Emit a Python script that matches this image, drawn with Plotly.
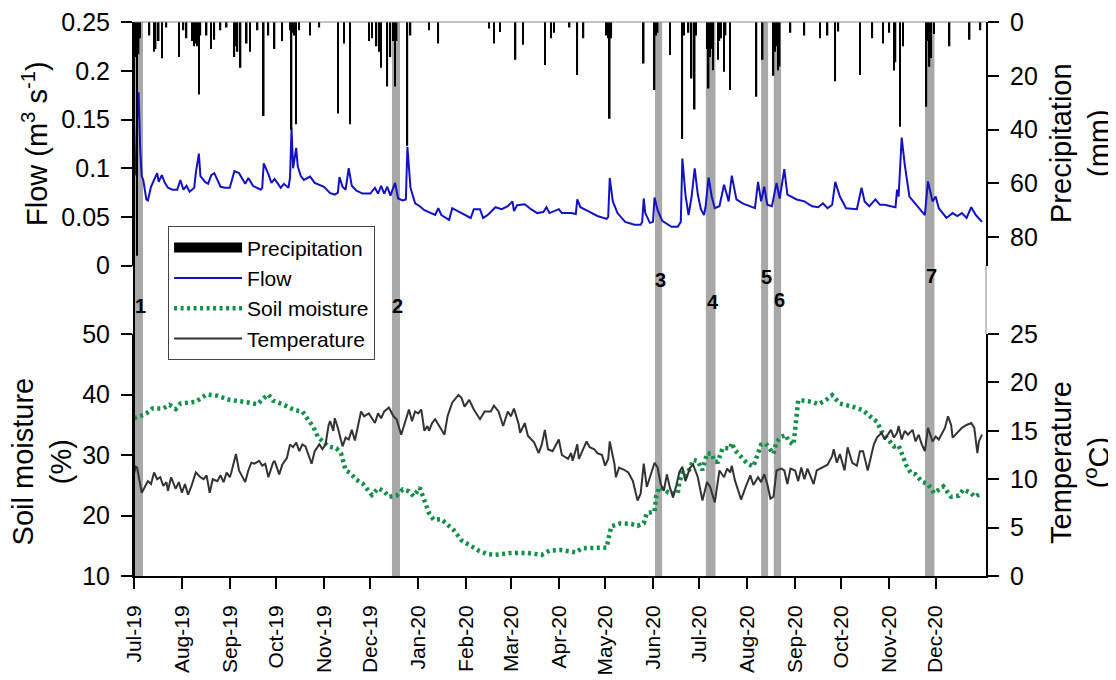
import plotly.graph_objects as go
import pandas as pd

# ---------------- data ----------------
flow_dates = [
    "2019-07-01", "2019-07-02", "2019-07-03", "2019-07-04", "2019-07-05", "2019-07-06", "2019-07-07",
    "2019-07-08", "2019-07-09", "2019-07-10", "2019-07-12", "2019-07-14", "2019-07-16", "2019-07-17",
    "2019-07-19", "2019-07-21", "2019-07-23", "2019-07-26", "2019-07-29", "2019-07-31", "2019-08-02",
    "2019-08-04", "2019-08-06", "2019-08-09", "2019-08-10", "2019-08-12", "2019-08-13", "2019-08-16",
    "2019-08-18", "2019-08-20", "2019-08-22", "2019-08-24", "2019-08-26", "2019-08-29", "2019-09-01",
    "2019-09-04", "2019-09-07", "2019-09-11", "2019-09-13", "2019-09-16", "2019-09-21", "2019-09-22",
    "2019-09-23", "2019-09-26", "2019-09-28", "2019-09-30", "2019-10-04", "2019-10-06", "2019-10-09",
    "2019-10-10", "2019-10-11", "2019-10-12", "2019-10-14", "2019-10-15", "2019-10-17", "2019-10-19",
    "2019-10-23", "2019-10-26", "2019-11-01", "2019-11-05", "2019-11-08", "2019-11-10", "2019-11-11",
    "2019-11-13", "2019-11-15", "2019-11-17", "2019-11-19", "2019-11-22", "2019-11-26", "2019-12-01",
    "2019-12-04", "2019-12-06", "2019-12-08", "2019-12-10", "2019-12-12", "2019-12-14", "2019-12-17",
    "2019-12-19", "2019-12-22", "2019-12-24", "2019-12-25", "2019-12-27", "2019-12-30", "2020-01-02",
    "2020-01-05", "2020-01-12", "2020-01-14", "2020-01-16", "2020-01-21", "2020-01-23", "2020-01-29",
    "2020-02-04", "2020-02-06", "2020-02-10", "2020-02-12", "2020-02-15", "2020-02-20", "2020-02-24",
    "2020-02-28", "2020-03-02", "2020-03-03", "2020-03-05", "2020-03-10", "2020-03-14", "2020-03-18",
    "2020-03-22", "2020-03-24", "2020-03-26", "2020-04-01", "2020-04-03", "2020-04-09", "2020-04-12",
    "2020-04-13", "2020-04-15", "2020-04-20", "2020-04-26", "2020-05-02", "2020-05-03", "2020-05-04",
    "2020-05-06", "2020-05-09", "2020-05-14", "2020-05-20", "2020-05-24", "2020-05-25", "2020-05-26",
    "2020-05-27", "2020-05-30", "2020-06-01", "2020-06-02", "2020-06-04", "2020-06-07", "2020-06-13",
    "2020-06-17", "2020-06-19", "2020-06-20", "2020-06-22", "2020-06-24", "2020-06-26", "2020-06-28",
    "2020-06-30", "2020-07-02", "2020-07-04", "2020-07-05", "2020-07-07", "2020-07-09", "2020-07-11",
    "2020-07-14", "2020-07-17", "2020-07-20", "2020-07-22", "2020-07-25", "2020-07-29", "2020-08-06",
    "2020-08-08", "2020-08-10", "2020-08-12", "2020-08-14", "2020-08-17", "2020-08-20", "2020-08-22",
    "2020-08-25", "2020-08-27", "2020-09-02", "2020-09-07", "2020-09-12", "2020-09-16", "2020-09-19",
    "2020-09-22", "2020-09-25", "2020-09-27", "2020-09-30", "2020-10-04", "2020-10-11", "2020-10-14",
    "2020-10-16", "2020-10-19", "2020-10-23", "2020-10-26", "2020-10-29", "2020-11-02", "2020-11-05",
    "2020-11-06", "2020-11-07", "2020-11-09", "2020-11-11", "2020-11-14", "2020-11-20", "2020-11-24",
    "2020-11-26", "2020-11-29", "2020-12-01", "2020-12-03", "2020-12-08", "2020-12-12", "2020-12-15",
    "2020-12-18", "2020-12-21", "2020-12-24", "2020-12-27", "2020-12-31",
]
flow_m3s = [
    0.092, 0.095, 0.150, 0.178, 0.120, 0.092, 0.088,
    0.076, 0.068, 0.067, 0.081, 0.088, 0.095, 0.086,
    0.093, 0.085, 0.080, 0.078, 0.078, 0.088, 0.078,
    0.082, 0.076, 0.080, 0.095, 0.115, 0.092, 0.086,
    0.084, 0.093, 0.095, 0.088, 0.081, 0.080, 0.080,
    0.097, 0.095, 0.084, 0.090, 0.082, 0.078, 0.080,
    0.105, 0.094, 0.085, 0.089, 0.080, 0.084, 0.080,
    0.090, 0.141, 0.100, 0.121, 0.102, 0.092, 0.088,
    0.0915, 0.085, 0.081, 0.0745, 0.073, 0.075, 0.091,
    0.081, 0.078, 0.100, 0.082, 0.077, 0.074, 0.074,
    0.080, 0.074, 0.082, 0.074, 0.081, 0.072, 0.085,
    0.069, 0.067, 0.068, 0.122, 0.080, 0.064, 0.061,
    0.057, 0.052, 0.059, 0.052, 0.047, 0.059, 0.054,
    0.049, 0.058, 0.058, 0.049, 0.052, 0.060, 0.058,
    0.061, 0.066, 0.056, 0.062, 0.063, 0.058, 0.054,
    0.055, 0.060, 0.054, 0.058, 0.054, 0.054, 0.053,
    0.068, 0.060, 0.056, 0.051, 0.048, 0.050, 0.090,
    0.066, 0.054, 0.045, 0.042, 0.042, 0.045, 0.069,
    0.054, 0.044, 0.045, 0.070, 0.057, 0.046, 0.040,
    0.040, 0.045, 0.110, 0.073, 0.052, 0.071, 0.100,
    0.073, 0.058, 0.052, 0.060, 0.0905, 0.071, 0.059,
    0.061, 0.083, 0.066, 0.0925, 0.068, 0.064, 0.059,
    0.086, 0.066, 0.081, 0.0625, 0.061, 0.085, 0.069,
    0.099, 0.073, 0.068, 0.066, 0.061, 0.060, 0.064,
    0.059, 0.0625, 0.086, 0.071, 0.059, 0.058, 0.080,
    0.066, 0.061, 0.068, 0.0625, 0.0625, 0.061, 0.060,
    0.078, 0.071, 0.1315, 0.1035, 0.071, 0.059, 0.052,
    0.0865, 0.066, 0.071, 0.059, 0.049, 0.054, 0.051,
    0.054, 0.049, 0.060, 0.052, 0.045,
]

precip_dates = [
    "2019-07-01", "2019-07-02", "2019-07-03", "2019-07-04", "2019-07-05", "2019-07-11", "2019-07-14",
    "2019-07-15", "2019-07-17", "2019-07-19", "2019-07-22", "2019-07-30", "2019-08-02", "2019-08-04",
    "2019-08-08", "2019-08-09", "2019-08-10", "2019-08-11", "2019-08-12", "2019-08-13", "2019-08-17",
    "2019-08-20", "2019-08-22", "2019-08-26", "2019-08-30", "2019-09-04", "2019-09-05", "2019-09-06",
    "2019-09-08", "2019-09-12", "2019-09-14", "2019-09-19", "2019-09-23", "2019-09-26", "2019-09-30",
    "2019-10-05", "2019-10-10", "2019-10-11", "2019-10-12", "2019-10-13", "2019-10-14", "2019-10-16",
    "2019-10-23", "2019-10-29", "2019-11-10", "2019-11-14", "2019-11-18", "2019-11-30", "2019-12-02",
    "2019-12-05", "2019-12-07", "2019-12-08", "2019-12-12", "2019-12-14", "2019-12-16", "2019-12-17",
    "2019-12-18", "2019-12-25", "2019-12-27", "2020-01-08", "2020-01-14", "2020-02-16", "2020-02-19",
    "2020-02-23", "2020-03-04", "2020-03-09", "2020-03-23", "2020-03-27", "2020-03-29", "2020-04-08",
    "2020-04-13", "2020-04-17", "2020-05-02", "2020-05-03", "2020-05-04", "2020-05-05", "2020-05-26",
    "2020-06-02", "2020-06-03", "2020-06-04", "2020-06-12", "2020-06-20", "2020-06-21", "2020-06-24",
    "2020-06-26", "2020-06-28", "2020-06-29", "2020-07-06", "2020-07-07", "2020-07-08", "2020-07-09",
    "2020-07-10", "2020-07-13", "2020-07-14", "2020-07-15", "2020-07-17", "2020-07-18", "2020-07-21",
    "2020-08-07", "2020-08-11", "2020-08-18", "2020-08-19", "2020-08-20", "2020-08-21", "2020-08-22",
    "2020-08-29", "2020-09-07", "2020-09-17", "2020-09-22", "2020-09-27", "2020-09-29", "2020-10-13",
    "2020-10-21", "2020-10-28", "2020-11-01", "2020-11-04", "2020-11-05", "2020-11-08", "2020-11-10",
    "2020-11-25", "2020-11-26", "2020-11-27", "2020-11-28", "2020-11-30", "2020-12-10", "2020-12-23",
    "2020-12-30",
]
precip_mm = [
    8, 13, 87, 12, 6, 5, 11,
    10, 7, 13.5, 2, 13, 3, 6,
    7, 9, 8, 9, 27, 5, 5,
    10, 6.6, 3, 2, 13, 9, 11,
    17, 8, 11, 3, 35, 5, 10,
    7, 3, 40, 4, 5, 38, 3,
    5, 2, 34, 8, 38, 7, 6,
    9, 11, 17, 24, 13, 7, 24,
    7, 46, 5, 3, 8, 2.4, 8,
    3.7, 14, 8.4, 16, 6, 4, 2,
    19.7, 6, 5, 6, 36, 6, 15.4,
    25.3, 5, 4, 12.3, 43.5, 5, 4,
    21, 32.5, 5, 10, 24.7, 13, 10,
    17.9, 14, 7, 6, 18.5, 5, 25.3,
    27.8, 14, 20, 11, 9, 17.9, 16.5,
    4, 5, 6, 5, 22, 3.5, 19.7,
    6, 8, 4, 18, 15, 39, 9,
    31.5, 7, 16.6, 13.4, 4.4, 9, 6.6,
    3,
]

soil_dates = [
    "2019-07-01", "2019-07-07", "2019-07-11", "2019-07-13", "2019-07-20", "2019-07-24", "2019-07-28",
    "2019-07-31", "2019-08-10", "2019-08-13", "2019-08-17", "2019-08-24", "2019-09-01", "2019-09-10",
    "2019-09-19", "2019-09-23", "2019-09-26", "2019-09-29", "2019-10-06", "2019-10-13", "2019-10-18",
    "2019-10-21", "2019-10-25", "2019-10-28", "2019-11-01", "2019-11-04", "2019-11-09", "2019-11-12",
    "2019-11-15", "2019-11-18", "2019-11-22", "2019-11-26", "2019-12-02", "2019-12-06", "2019-12-10",
    "2019-12-13", "2019-12-18", "2019-12-22", "2019-12-26", "2019-12-29", "2020-01-02", "2020-01-05",
    "2020-01-08", "2020-01-11", "2020-01-16", "2020-01-19", "2020-01-24", "2020-01-29", "2020-02-03",
    "2020-02-09", "2020-02-15", "2020-02-20", "2020-03-01", "2020-03-12", "2020-03-21", "2020-03-26",
    "2020-04-02", "2020-04-12", "2020-04-16", "2020-04-25", "2020-05-02", "2020-05-04", "2020-05-05",
    "2020-05-11", "2020-05-18", "2020-05-22", "2020-05-26", "2020-05-28", "2020-06-02", "2020-06-03",
    "2020-06-05", "2020-06-08", "2020-06-11", "2020-06-17", "2020-06-18", "2020-06-20", "2020-06-22",
    "2020-06-25", "2020-06-27", "2020-06-30", "2020-07-03", "2020-07-06", "2020-07-09", "2020-07-11",
    "2020-07-13", "2020-07-16", "2020-07-21", "2020-07-22", "2020-07-24", "2020-07-28", "2020-08-01",
    "2020-08-05", "2020-08-08", "2020-08-10", "2020-08-13", "2020-08-15", "2020-08-18", "2020-08-20",
    "2020-08-23", "2020-08-26", "2020-08-28", "2020-08-31", "2020-09-01", "2020-09-02", "2020-09-03",
    "2020-09-06", "2020-09-12", "2020-09-16", "2020-09-21", "2020-09-25", "2020-09-30", "2020-10-08",
    "2020-10-15", "2020-10-20", "2020-10-24", "2020-10-27", "2020-11-01", "2020-11-04", "2020-11-07",
    "2020-11-09", "2020-11-12", "2020-11-15", "2020-11-18", "2020-11-22", "2020-11-26", "2020-11-30",
    "2020-12-03", "2020-12-06", "2020-12-11", "2020-12-16", "2020-12-19", "2020-12-24", "2020-12-26",
    "2020-12-31",
]
soil_pct = [
    36.1, 36.6, 37.2, 37.7, 37.7, 38.3, 37.6,
    38.5, 38.8, 39.4, 40.0, 39.8, 39.1, 38.8,
    38.4, 39.4, 40.0, 39.0, 38.3, 37.4, 37.2,
    36.1, 34.7, 33.0, 32.2, 31.4, 31.1, 30.3,
    27.5, 27.0, 25.9, 25.3, 23.4, 24.5, 24.0,
    23.1, 23.3, 24.3, 24.0, 23.2, 24.6, 22.3,
    20.4, 19.3, 19.4, 18.7, 17.6, 15.9, 15.1,
    14.2, 13.6, 13.5, 13.8, 13.8, 13.5, 14.2,
    14.3, 13.9, 14.6, 14.7, 14.7, 17.1, 18.2,
    18.7, 18.6, 18.3, 18.7, 20.4, 20.6, 23.1,
    24.7, 24.3, 23.8, 23.6, 25.3, 27.2, 26.5,
    27.8, 29.2, 29.0, 27.5, 30.3, 30.2, 28.9,
    28.9, 31.1, 31.1, 32.0, 30.8, 29.7, 28.6,
    28.1, 30.3, 31.7, 31.9, 31.1, 30.2, 32.2,
    33.0, 33.3, 32.2, 31.7, 34.1, 37.4, 39.0,
    39.0, 38.8, 38.4, 39.1, 39.9, 38.5, 38.0,
    37.4, 36.3, 35.5, 33.9, 32.5, 31.4, 31.6,
    30.3, 28.3, 27.0, 26.8, 25.6, 25.2, 23.7,
    24.3, 24.8, 23.1, 23.3, 24.3, 23.7, 23.1,
    23.7,
]

temp_dates = [
    "2019-07-01", "2019-07-02", "2019-07-03", "2019-07-06", "2019-07-08", "2019-07-10", "2019-07-12",
    "2019-07-14", "2019-07-16", "2019-07-18", "2019-07-20", "2019-07-22", "2019-07-23", "2019-07-25",
    "2019-07-28", "2019-07-30", "2019-08-01", "2019-08-03", "2019-08-05", "2019-08-07", "2019-08-10",
    "2019-08-13", "2019-08-15", "2019-08-17", "2019-08-19", "2019-08-21", "2019-08-24", "2019-08-26",
    "2019-08-28", "2019-08-30", "2019-09-01", "2019-09-02", "2019-09-05", "2019-09-07", "2019-09-11",
    "2019-09-13", "2019-09-15", "2019-09-17", "2019-09-20", "2019-09-22", "2019-09-24", "2019-09-26",
    "2019-09-29", "2019-09-30", "2019-10-03", "2019-10-05", "2019-10-08", "2019-10-10", "2019-10-12",
    "2019-10-14", "2019-10-16", "2019-10-18", "2019-10-20", "2019-10-22", "2019-10-24", "2019-10-26",
    "2019-10-29", "2019-10-31", "2019-11-02", "2019-11-04", "2019-11-05", "2019-11-07", "2019-11-08",
    "2019-11-10", "2019-11-13", "2019-11-15", "2019-11-17", "2019-11-19", "2019-11-21", "2019-11-23",
    "2019-11-25", "2019-11-27", "2019-11-30", "2019-12-02", "2019-12-04", "2019-12-06", "2019-12-08",
    "2019-12-10", "2019-12-13", "2019-12-16", "2019-12-18", "2019-12-21", "2019-12-23", "2019-12-26",
    "2019-12-28", "2019-12-30", "2020-01-01", "2020-01-03", "2020-01-05", "2020-01-07", "2020-01-08",
    "2020-01-10", "2020-01-12", "2020-01-14", "2020-01-18", "2020-01-20", "2020-01-23", "2020-01-27",
    "2020-01-29", "2020-01-31", "2020-02-03", "2020-02-06", "2020-02-10", "2020-02-13", "2020-02-17",
    "2020-02-19", "2020-02-22", "2020-02-25", "2020-02-28", "2020-03-01", "2020-03-03", "2020-03-06",
    "2020-03-07", "2020-03-10", "2020-03-12", "2020-03-16", "2020-03-19", "2020-03-21", "2020-03-23",
    "2020-03-25", "2020-03-28", "2020-04-01", "2020-04-03", "2020-04-07", "2020-04-09", "2020-04-10",
    "2020-04-13", "2020-04-14", "2020-04-19", "2020-04-21", "2020-04-24", "2020-04-26", "2020-04-29",
    "2020-05-01", "2020-05-03", "2020-05-04", "2020-05-07", "2020-05-08", "2020-05-10", "2020-05-13",
    "2020-05-16", "2020-05-19", "2020-05-22", "2020-05-24", "2020-05-25", "2020-05-26", "2020-05-28",
    "2020-05-30", "2020-06-01", "2020-06-02", "2020-06-04", "2020-06-06", "2020-06-08", "2020-06-10",
    "2020-06-12", "2020-06-14", "2020-06-16", "2020-06-18", "2020-06-20", "2020-06-22", "2020-06-25",
    "2020-06-27", "2020-06-30", "2020-07-02", "2020-07-03", "2020-07-06", "2020-07-08", "2020-07-11",
    "2020-07-13", "2020-07-14", "2020-07-17", "2020-07-19", "2020-07-21", "2020-07-22", "2020-07-24",
    "2020-07-28", "2020-07-31", "2020-08-03", "2020-08-05", "2020-08-08", "2020-08-10", "2020-08-12",
    "2020-08-14", "2020-08-16", "2020-08-18", "2020-08-20", "2020-08-23", "2020-08-25", "2020-08-27",
    "2020-08-29", "2020-09-01", "2020-09-03", "2020-09-05", "2020-09-07", "2020-09-09", "2020-09-11",
    "2020-09-13", "2020-09-15", "2020-09-19", "2020-09-22", "2020-09-25", "2020-09-26", "2020-09-28",
    "2020-09-30", "2020-10-03", "2020-10-05", "2020-10-08", "2020-10-11", "2020-10-13", "2020-10-15",
    "2020-10-18", "2020-10-20", "2020-10-22", "2020-10-24", "2020-10-27", "2020-10-29", "2020-10-31",
    "2020-11-02", "2020-11-04", "2020-11-06", "2020-11-07", "2020-11-09", "2020-11-11", "2020-11-13",
    "2020-11-16", "2020-11-18", "2020-11-20", "2020-11-22", "2020-11-24", "2020-11-26", "2020-11-29",
    "2020-12-01", "2020-12-03", "2020-12-07", "2020-12-09", "2020-12-11", "2020-12-12", "2020-12-15",
    "2020-12-18", "2020-12-21", "2020-12-24", "2020-12-26", "2020-12-28", "2020-12-29", "2020-12-31",
]
temp_c = [
    10.5, 11.3, 11.2, 8.6, 9.2, 9.8, 9.5,
    10.7, 10.0, 10.2, 9.3, 9.7, 8.8, 10.2,
    9.0, 9.7, 8.6, 9.5, 8.4, 9.2, 10.7,
    10.2, 10.0, 10.4, 8.6, 10.0, 9.8, 10.4,
    9.7, 10.7, 10.2, 10.7, 12.6, 10.9, 9.7,
    10.9, 11.7, 11.6, 11.9, 11.4, 11.6, 10.2,
    11.7, 11.9, 10.5, 11.5, 12.2, 13.6, 13.3,
    13.8, 12.9, 13.6, 13.4, 12.6, 11.6, 12.9,
    13.6, 13.1, 13.6, 15.6, 16.0, 15.0, 16.3,
    15.3, 13.4, 14.3, 14.1, 15.1, 14.0, 15.5,
    17.0, 16.5, 16.8, 16.3, 15.8, 16.8, 16.3,
    17.0, 17.4, 16.5, 16.2, 14.6, 15.6, 17.2,
    16.0, 17.0, 16.8, 17.2, 15.0, 15.5, 15.0,
    15.8, 16.2, 15.7, 14.6, 16.5, 17.9, 18.7,
    18.4, 17.5, 18.2, 17.2, 16.2, 17.0, 17.0,
    17.6, 17.0, 15.5, 17.0, 16.5, 17.3, 15.7,
    14.8, 15.8, 14.5, 13.8, 12.7, 13.6, 15.1,
    13.1, 12.9, 14.1, 12.5, 12.1, 12.7, 11.9,
    13.6, 12.1, 13.9, 13.3, 13.1, 12.7, 12.5,
    11.4, 12.1, 13.9, 11.6, 10.2, 11.2, 11.0,
    10.7, 9.8, 7.8, 8.5, 10.5, 11.6, 9.2,
    10.2, 11.2, 11.7, 11.2, 9.5, 8.8, 10.5,
    9.1, 8.1, 9.3, 10.7, 11.3, 9.8, 11.2,
    11.5, 10.2, 8.4, 7.8, 9.7, 9.2, 7.6,
    9.7, 10.9, 10.2, 11.1, 10.7, 11.4, 9.9,
    7.9, 9.2, 10.4, 9.4, 10.2, 9.7, 10.5,
    9.5, 8.0, 8.2, 10.9, 11.1, 10.9, 9.5,
    11.1, 10.9, 9.8, 11.2, 10.0, 11.1, 10.2,
    9.5, 10.9, 11.2, 11.5, 12.4, 13.1, 11.7,
    12.6, 10.9, 13.3, 11.7, 11.4, 12.9, 12.9,
    10.9, 12.4, 13.6, 14.3, 14.8, 14.1, 14.6,
    15.1, 14.3, 14.8, 15.5, 14.1, 15.0, 14.6,
    15.1, 13.9, 14.6, 13.6, 12.9, 15.3, 13.9,
    14.4, 14.1, 15.3, 16.5, 15.6, 14.3, 14.8,
    15.3, 15.6, 15.8, 15.3, 12.7, 13.9, 14.6,
]

event_labels = ["1", "2", "3", "4", "5", "6", "7"]
event_starts = ["2019-07-01 00:00", "2019-12-15 00:00", "2020-06-02 07:00", "2020-07-05 05:00",
                "2020-08-10 00:00", "2020-08-18 05:00", "2020-11-24 02:00"]
event_ends = ["2019-07-06 20:00", "2019-12-20 05:00", "2020-06-06 22:00", "2020-07-11 10:00",
              "2020-08-14 12:00", "2020-08-22 22:00", "2020-11-30 05:00"]

month_ticks = ["2019-07-01", "2019-08-01", "2019-09-01", "2019-10-01", "2019-11-01", "2019-12-01",
               "2020-01-01", "2020-02-01", "2020-03-01", "2020-04-01", "2020-05-01", "2020-06-01",
               "2020-07-01", "2020-08-01", "2020-09-01", "2020-10-01", "2020-11-01", "2020-12-01"]
month_labels = ["Jul-19", "Aug-19", "Sep-19", "Oct-19", "Nov-19", "Dec-19", "Jan-20", "Feb-20",
                "Mar-20", "Apr-20", "May-20", "Jun-20", "Jul-20", "Aug-20", "Sep-20", "Oct-20",
                "Nov-20", "Dec-20"]
flow_ticks = [0, 0.05, 0.1, 0.15, 0.2, 0.25]
flow_tick_labels = ["0", "0.05", "0.1", "0.15", "0.2", "0.25"]
precip_ticks = [0, 20, 40, 60, 80]
soil_ticks = [10, 20, 30, 40, 50]
temp_ticks = [0, 5, 10, 15, 20, 25]

# ---------------- layout / style settings ----------------
# The page body adds an 8 px margin, so the figure is 8 px smaller and margins are shifted.
FONT = "Arial, 'Liberation Sans', sans-serif"
TOP_DOMAIN = [0.5601, 1.0]
BOTTOM_DOMAIN = [0.0, 0.4368]
label_heights = [0.487, 0.487, 0.534, 0.495, 0.540, 0.498, 0.5415]

fig = go.Figure()

fig.add_trace(go.Bar(
    x=precip_dates, y=precip_mm, yaxis="y2", marker=dict(color="black", line=dict(width=0)),
    width=86400000 * 1.0, showlegend=False, name="Precipitation"))
fig.add_trace(go.Scatter(
    x=[None], y=[None], yaxis="y2", mode="lines", name="Precipitation",
    line=dict(color="black", width=14)))
fig.add_trace(go.Scatter(
    x=flow_dates, y=flow_m3s, yaxis="y", mode="lines", name="Flow",
    line=dict(color="#1212C4", width=2)))
fig.add_trace(go.Scatter(
    x=soil_dates, y=soil_pct, yaxis="y3", mode="lines", name="Soil moisture",
    line=dict(color="#12904A", width=4.5, dash="3px,3.5px")))
fig.add_trace(go.Scatter(
    x=temp_dates, y=temp_c, yaxis="y4", mode="lines", name="Temperature",
    line=dict(color="#333333", width=2)))

shapes = []
for s, e in zip(event_starts, event_ends):
    shapes.append(dict(type="rect", xref="x", yref="paper", x0=s, x1=e, y0=0, y1=1,
                       fillcolor="#A8A8A8", line=dict(width=0), layer="below"))
shapes.append(dict(type="line", xref="paper", yref="paper", x0=0, x1=0, y0=0, y1=1,
                   line=dict(color="black", width=2)))
shapes.append(dict(type="line", xref="paper", yref="paper", x0=1, x1=1, y0=BOTTOM_DOMAIN[1], y1=TOP_DOMAIN[0],
                   line=dict(color="#888888", width=1)))
shapes.append(dict(type="line", xref="paper", yref="paper", x0=0, x1=1, y0=1, y1=1,
                   line=dict(color="#888888", width=1)))

annotations = []
for lab, s, e, hy in zip(event_labels, event_starts, event_ends, label_heights):
    mid = pd.Timestamp(s) + (pd.Timestamp(e) - pd.Timestamp(s)) / 2
    annotations.append(dict(x=mid, y=hy, xref="x", yref="paper", text="<b>%s</b>" % lab,
                            showarrow=False, xshift=2, font=dict(size=20, color="black", family=FONT)))

title_font = dict(size=29, color="black", family=FONT)
annotations += [
    dict(x=-0.1162, y=0.7816, xref="paper", yref="paper", text="Flow (m<sup>3</sup> s<sup>-1</sup>)",
         textangle=-90, showarrow=False, font=title_font, xanchor="center", yanchor="middle"),
    dict(x=1.1103, y=0.7816, xref="paper", yref="paper", text="Precipitation<br>(mm)",
         textangle=-90, showarrow=False, font=title_font, xanchor="center", yanchor="middle"),
    dict(x=-0.1075, y=0.2076, xref="paper", yref="paper", text="Soil moisture<br>(%)",
         textangle=-90, showarrow=False, font=title_font, xanchor="center", yanchor="middle"),
    dict(x=1.1103, y=0.2058, xref="paper", yref="paper", text="Temperature<br>(<sup>o</sup>C)",
         textangle=-90, showarrow=False, font=title_font, xanchor="center", yanchor="middle"),
]

axis_common = dict(showline=True, linecolor="black", linewidth=2, ticks="outside", ticklen=11,
                   tickwidth=2, tickcolor="black", showgrid=False, zeroline=False,
                   ticklabeloverflow="allow",
                   tickfont=dict(size=25, color="black", family=FONT))

fig.update_layout(
    width=1108, height=672,
    margin=dict(l=126, r=130, t=14, b=104, autoexpand=False),
    paper_bgcolor="white", plot_bgcolor="white",
    font=dict(family=FONT, color="black"),
    barmode="overlay",
    xaxis=dict(type="date", range=["2019-07-01", "2021-01-02 14:00"], tickvals=month_ticks,
               ticktext=month_labels, tickangle=-90, anchor="y3", showline=True, linecolor="black",
               linewidth=2, ticks="outside", ticklen=11, tickwidth=2, tickcolor="black",
               showgrid=False, zeroline=False, ticklabelstandoff=8, ticklabeloverflow="allow",
               tickfont=dict(size=21, color="black", family=FONT)),
    yaxis=dict(domain=TOP_DOMAIN, range=[0, 0.2501], tickvals=flow_ticks, ticktext=flow_tick_labels,
               anchor="x", ticklabelstandoff=6, **axis_common),
    yaxis2=dict(overlaying="y", side="right", range=[90.7, -0.03], tickvals=precip_ticks, anchor="x",
                ticklabelstandoff=6, **axis_common),
    yaxis3=dict(domain=BOTTOM_DOMAIN, range=[10, 50], tickvals=soil_ticks, anchor="x",
                ticklabelstandoff=6, **axis_common),
    yaxis4=dict(overlaying="y3", side="right", range=[0, 25], tickvals=temp_ticks, anchor="x",
                ticklabelstandoff=6, **axis_common),
    legend=dict(x=0.04, y=0.631, xanchor="left", yanchor="top", bgcolor="white",
                bordercolor="#444444", borderwidth=1, itemwidth=68,
                font=dict(size=21, color="black", family=FONT), traceorder="normal"),
    shapes=shapes,
    annotations=annotations,
)

fig.write_html("out.html")
